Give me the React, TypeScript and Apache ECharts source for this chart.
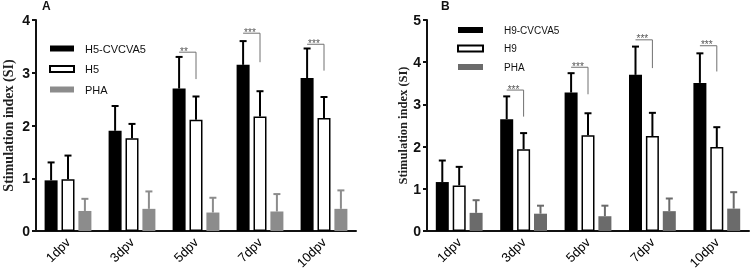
import React, { useEffect, useRef } from 'react';
import * as echarts from 'echarts';

const categories = ['1dpv', '3dpv', '5dpv', '7dpv', '10dpv'];

// Panel A
const aNames = ['H5-CVCVA5', 'H5', 'PHA'];
const aVaccineMean = [0.96, 1.9, 2.7, 3.15, 2.9];
const aVaccineSD = [0.34, 0.47, 0.6, 0.45, 0.56];
const aH5Mean = [0.98, 1.76, 2.11, 2.17, 2.14];
const aH5SD = [0.45, 0.27, 0.44, 0.48, 0.4];
const aPhaMean = [0.38, 0.42, 0.35, 0.37, 0.42];
const aPhaSD = [0.23, 0.33, 0.28, 0.33, 0.35];
const aSigCats = [2, 3, 4];
const aSigTop = [3.39, 3.75, 3.54];
const aSigBottom = [2.88, 3.2, 3.04];
const aSigLabels = ['**', '***', '***'];

// Panel B
const bNames = ['H9-CVCVA5', 'H9', 'PHA'];
const bVaccineMean = [1.16, 2.65, 3.28, 3.7, 3.51];
const bVaccineSD = [0.51, 0.54, 0.46, 0.67, 0.7];
const bH9Mean = [1.08, 1.94, 2.27, 2.25, 1.99];
const bH9SD = [0.44, 0.38, 0.52, 0.55, 0.47];
const bPhaMean = [0.43, 0.41, 0.35, 0.47, 0.53];
const bPhaSD = [0.3, 0.19, 0.25, 0.3, 0.39];
const bSigCats = [1, 2, 3, 4];
const bSigTop = [3.34, 3.88, 4.53, 4.39];
const bSigBottom = [2.71, 3.24, 3.86, 3.78];
const bSigLabels = ['***', '***', '***', '***'];

const BAR_W = 13;
const BAR_GAP = 0.3;
const STEP = BAR_W * (1 + BAR_GAP);

export default function App() {
  const ref = useRef<HTMLDivElement>(null);
  useEffect(() => {
    if (!ref.current) return;
    const chart = echarts.init(ref.current, null, { renderer: 'svg' });

    const font = 'Liberation Sans, Arial, sans-serif';
    const serif = 'Liberation Serif, Times New Roman, serif';

    const mkX = (gi: number) => ({
      type: 'category',
      gridIndex: gi,
      data: categories,
      axisLine: { lineStyle: { color: '#111', width: 2 } },
      axisTick: { alignWithLabel: true, length: 4, lineStyle: { color: '#111', width: 1.5 } },
      axisLabel: { rotate: 45, margin: 9, fontSize: 13, fontFamily: font, color: '#000', interval: 0 },
    });
    const mkY = (gi: number, max: number, nameSize: number, nameGap: number) => ({
      type: 'value',
      gridIndex: gi,
      min: 0,
      max,
      interval: 1,
      name: 'Stimulation index (SI)',
      nameLocation: 'middle',
      nameGap,
      nameTextStyle: { fontFamily: serif, fontWeight: 'bold', fontSize: nameSize, color: '#222' },
      axisLine: { show: true, lineStyle: { color: '#111', width: 2 } },
      axisTick: { show: true, length: 4, lineStyle: { color: '#111', width: 2 } },
      axisLabel: { margin: 6, fontSize: 14, fontWeight: 'bold', color: '#111', fontFamily: font },
      splitLine: { show: false },
    });

    const barSeries = (name: string, data: number[], gi: number, style: any) => ({
      type: 'bar',
      name,
      xAxisIndex: gi,
      yAxisIndex: gi,
      data,
      barWidth: BAR_W,
      barGap: BAR_GAP * 100 + '%',
      itemStyle: style,
      z: 2,
    });

    // checkerboard squares inside the middle bar of each group
    const checkerSeries = (mean: number[], gi: number) => ({
      type: 'custom',
      xAxisIndex: gi,
      yAxisIndex: gi,
      data: mean.map((m, i) => [i, m]),
      encode: { x: 0, y: 1 },
      z: 2,
      silent: true,
      renderItem: (params: any, api: any) => {
        const cat = api.value(0);
        const top = api.coord([cat, api.value(1)]);
        const base = api.coord([cat, 0]);
        const x0 = top[0] - BAR_W / 2 + 1;
        const inner = BAR_W - 2;
        const s = inner / 3;
        const yTop = top[1] + 1;
        const yBase = base[1] - 1;
        const children: any[] = [];
        let r = 0;
        for (let y = yBase; y > yTop + 0.01; y -= s, r++) {
          const h = Math.min(s, y - yTop);
          for (let c = 0; c < 3; c++) {
            if ((r + c) % 2 === 0) {
              children.push({
                type: 'rect',
                shape: { x: x0 + c * s, y: y - h, width: s, height: h },
                style: { fill: '#000' },
              });
            }
          }
        }
        return { type: 'group', children };
      },
    });

    const errSeries = (mean: number[], sd: number[], gi: number, idx: number, color: string) => ({
      type: 'custom',
      xAxisIndex: gi,
      yAxisIndex: gi,
      data: mean.map((m, i) => [i, m, sd[i]]),
      encode: { x: 0, y: 1 },
      z: 3,
      silent: true,
      renderItem: (params: any, api: any) => {
        const cat = api.value(0);
        const m = api.value(1);
        const s = api.value(2);
        const p0 = api.coord([cat, m]);
        const p1 = api.coord([cat, m + s]);
        const x = p0[0] + (idx - 1) * STEP;
        return {
          type: 'group',
          children: [
            { type: 'line', shape: { x1: x, y1: p0[1], x2: x, y2: p1[1] }, style: { stroke: color, lineWidth: 2 } },
            { type: 'line', shape: { x1: x - 3.5, y1: p1[1], x2: x + 3.5, y2: p1[1] }, style: { stroke: color, lineWidth: 2 } },
          ],
        };
      },
    });

    const sigSeries = (cats: number[], tops: number[], bots: number[], labels: string[], gi: number) => ({
      type: 'custom',
      xAxisIndex: gi,
      yAxisIndex: gi,
      data: cats.map((c, i) => [c, tops[i], bots[i]]),
      encode: { x: 0, y: 1 },
      z: 4,
      silent: true,
      renderItem: (params: any, api: any) => {
        const cat = api.value(0);
        const pt = api.coord([cat, api.value(1)]);
        const pb = api.coord([cat, api.value(2)]);
        const x2 = pt[0];
        const x1 = pt[0] - STEP;
        return {
          type: 'group',
          children: [
            {
              type: 'polyline',
              shape: { points: [[x1, pt[1]], [x2, pt[1]], [x2, pb[1]]] },
              style: { stroke: '#707070', lineWidth: 1, fill: null },
            },
            {
              type: 'text',
              x: x1 + 1,
              y: pt[1] - 6,
              style: { text: labels[params.dataIndex], fontSize: 10, fill: '#555', fontFamily: font },
            },
          ],
        };
      },
    });

    const grayA = '#8c8c8c';
    const grayB = '#6b6b6b';
    const checkStyle = { color: '#fff', borderColor: '#000', borderWidth: 1.5 };

    const option: any = {
      animation: false,
      title: [
        { text: 'A', left: 42, top: 0, padding: 0, textStyle: { fontSize: 12, fontWeight: 'bold', fontFamily: font, color: '#111' } },
        { text: 'B', left: 441, top: 0, padding: 0, textStyle: { fontSize: 12, fontWeight: 'bold', fontFamily: font, color: '#111' } },
      ],
      legend: [
        {
          data: aNames,
          orient: 'vertical',
          left: 49,
          top: 43,
          padding: 0,
          itemWidth: 24,
          itemHeight: 6,
          itemGap: 9.5,
          icon: 'rect',
          selectedMode: false,
          textStyle: { fontSize: 11, fontFamily: font, color: '#111', padding: [0, 0, 0, 6] },
        },
        {
          data: bNames.map((n, i) => (i === 2 ? n + ' B' : n)),
          orient: 'vertical',
          left: 457,
          top: 25,
          padding: 0,
          itemWidth: 25,
          itemHeight: 6,
          itemGap: 8.5,
          icon: 'rect',
          selectedMode: false,
          formatter: (n: string) => n.replace(/ B$/, ''),
          textStyle: { fontSize: 10, fontFamily: font, color: '#111', padding: [0, 0, 0, 16] },
        },
      ],
      grid: [
        { left: 36, top: 20, width: 320, height: 211 },
        { left: 427, top: 20, width: 322, height: 211 },
      ],
      xAxis: [mkX(0), mkX(1)],
      yAxis: [mkY(0, 4, 14, 21), mkY(1, 5, 12.5, 18)],
      series: [
        barSeries(aNames[0], aVaccineMean, 0, { color: '#000' }),
        barSeries(aNames[1], aH5Mean, 0, checkStyle),
        barSeries(aNames[2], aPhaMean, 0, { color: grayA }),
        barSeries(bNames[0], bVaccineMean, 1, { color: '#000' }),
        barSeries(bNames[1], bH9Mean, 1, checkStyle),
        barSeries(bNames[2] + ' B', bPhaMean, 1, { color: grayB }),
        checkerSeries(aH5Mean, 0),
        checkerSeries(bH9Mean, 1),
        errSeries(aVaccineMean, aVaccineSD, 0, 0, '#000'),
        errSeries(aH5Mean, aH5SD, 0, 1, '#000'),
        errSeries(aPhaMean, aPhaSD, 0, 2, grayA),
        errSeries(bVaccineMean, bVaccineSD, 1, 0, '#000'),
        errSeries(bH9Mean, bH9SD, 1, 1, '#000'),
        errSeries(bPhaMean, bPhaSD, 1, 2, grayB),
        sigSeries(aSigCats, aSigTop, aSigBottom, aSigLabels, 0),
        sigSeries(bSigCats, bSigTop, bSigBottom, bSigLabels, 1),
      ],
    };
    chart.setOption(option);
    return () => chart.dispose();
  }, []);
  return <div ref={ref} style={{ position: 'fixed', left: 0, top: 0, width: 750, height: 279 }} />;
}
